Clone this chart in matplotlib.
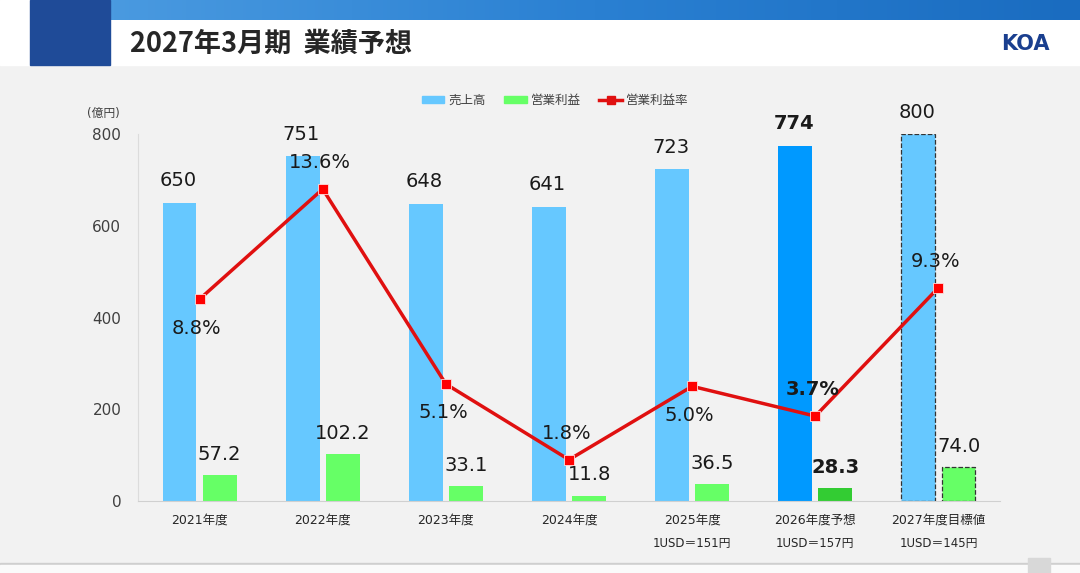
import numpy as np
import matplotlib
matplotlib.use('Agg')
import matplotlib.pyplot as plt
from matplotlib.patches import Rectangle, Patch
from matplotlib.lines import Line2D

plt.rcParams['font.family'] = ['DejaVu Sans', 'Noto Sans CJK JP']

years = ['2021年度', '2022年度', '2023年度', '2024年度', '2025年度', '2026年度予想', '2027年度目標値']
fx_notes = ['', '', '', '', '1USD＝151円', '1USD＝157円', '1USD＝145円']
sales = [650, 751, 648, 641, 723, 774, 800]
profit = [57.2, 102.2, 33.1, 11.8, 36.5, 28.3, 74.0]
margin = [8.8, 13.6, 5.1, 1.8, 5.0, 3.7, 9.3]
margin_above = [False, True, False, True, False, True, True]

W, H = 1080, 573
fig = plt.figure(figsize=(W / 100, H / 100), dpi=100)
fig.patch.set_facecolor('#f2f2f2')

# header
bg = fig.add_axes([0, 0, 1, 1], zorder=-10)
bg.axis('off')
bg.add_patch(Rectangle((0, 0), W, 65, color='white', zorder=1))
grad = np.linspace(0, 1, 256).reshape(1, -1)
cmap = matplotlib.colors.LinearSegmentedColormap.from_list('b', ['#4a9ae0', '#2a80d2', '#1a6cc0'])
bg.imshow(grad, extent=(110, W, 20, 0), cmap=cmap, aspect='auto', zorder=2)
bg.add_patch(Rectangle((30, 0), 80, 65, color='#1f4b98', zorder=3))
bg.add_patch(Rectangle((0, 563), W, 2, color='#cfcfcf', zorder=1))
bg.add_patch(Rectangle((0, 565), W, 8, color='#fafafa', zorder=1))
bg.add_patch(Rectangle((1028, 558), 22, 15, color='#d8d8d8', zorder=2))
bg.set_xlim(0, W)
bg.set_ylim(H, 0)
fig.text(130 / W, 1 - 44 / H, '2027年3月期  業績予想', fontsize=19.5, fontweight='bold',
         family='Noto Sans CJK JP', color='#262626', va='center', ha='left')
fig.text(1025 / W, 1 - 44 / H, 'KOA', fontsize=15, fontweight='heavy', color='#1a3f8f',
         va='center', ha='center', family='DejaVu Sans')

ax = fig.add_axes([138 / W, 1 - 501 / H, 862 / W, (501 - 134) / H])
ax.set_facecolor('none')
x = np.arange(len(years))
bw = 0.276
off = 0.163

sales_colors = ['#66c8ff'] * 5 + ['#0099ff', '#66c8ff']
profit_colors = ['#66ff66'] * 5 + ['#33cc33', '#66ff66']
for i in range(len(years)):
    if i == 6:
        edge = dict(edgecolor='#333333', linestyle='--', linewidth=0.9)
    else:
        edge = dict(edgecolor='none', linewidth=0)
    ax.bar(x[i] - off, sales[i], bw, color=sales_colors[i], **edge)
    ax.bar(x[i] + off, profit[i], bw, color=profit_colors[i], **edge)
    bold = 'bold' if i == 5 else 'normal'
    ax.annotate(f'{sales[i]}', (x[i] - off, sales[i]), xytext=(-1, 9), textcoords='offset points',
                ha='center', va='bottom', fontsize=14, fontweight=bold, color='#1a1a1a')
    ax.annotate(f'{profit[i]:.1f}', (x[i] + off, profit[i]), xytext=(0, 8), textcoords='offset points',
                ha='center', va='bottom', fontsize=14, fontweight=bold, color='#1a1a1a')

ax.set_xlim(-0.5, len(years) - 0.5)
ax.set_ylim(0, 800)
ax.set_yticks([0, 200, 400, 600, 800])
ax.tick_params(axis='y', length=0, pad=12, labelsize=11, labelcolor='#404040')
ax.tick_params(axis='x', length=0, pad=9, labelsize=9, labelcolor='#262626')
ax.set_xticks(x)
ax.set_xticklabels(years)
for s in ['top', 'right']:
    ax.spines[s].set_visible(False)
ax.spines['left'].set_color('#dcdcdc')
ax.spines['bottom'].set_color('#d0d0d0')
for i, note in enumerate(fx_notes):
    if note:
        ax.annotate(note, (x[i], 0), xytext=(0, -43), textcoords='offset pixels',
                    ha='center', va='center', fontsize=8.5, color='#262626')
ax.text(-0.78, 845, '(億円)', fontsize=8.5, color='#404040', ha='center', va='center')

ax2 = ax.twinx()
ax2.set_ylim(0, 16)
ax2.axis('off')
ax2.plot(x, margin, color='#e01010', lw=2.5, marker='s', markersize=7,
         markerfacecolor='#ff0000', markeredgecolor='#ffdddd', markeredgewidth=0.6)
for i in range(len(years)):
    bold = 'bold' if i == 5 else 'normal'
    if margin_above[i]:
        ax2.annotate(f'{margin[i]:.1f}%', (x[i], margin[i]), xytext=(-2, 12), textcoords='offset points',
                     ha='center', va='bottom', fontsize=14, fontweight=bold, color='#1a1a1a')
    else:
        ax2.annotate(f'{margin[i]:.1f}%', (x[i], margin[i]), xytext=(-2, -14), textcoords='offset points',
                     ha='center', va='top', fontsize=14, fontweight=bold, color='#1a1a1a')

handles = [Patch(color='#66c8ff'), Patch(color='#66ff66'),
           Line2D([0], [0], color='#e01010', lw=2.5, marker='s', markersize=6)]
fig.legend(handles, ['売上高', '営業利益', '営業利益率'], loc='center', ncol=3,
           bbox_to_anchor=(555 / W, 1 - 100 / H), frameon=False,
           handlelength=1.8, handleheight=0.5, columnspacing=1.5, handletextpad=0.3,
           labelcolor='#404040', prop={'family': ['DejaVu Sans', 'Noto Sans CJK JP'], 'size': 9})

fig.savefig('out.png', dpi=100, facecolor=fig.get_facecolor())
